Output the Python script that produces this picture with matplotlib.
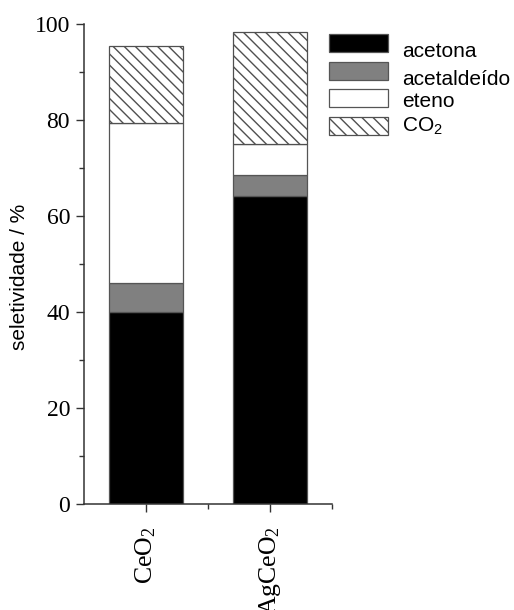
import matplotlib
matplotlib.use("Agg")
import matplotlib.pyplot as plt
import matplotlib.transforms as mtransforms
import numpy as np
from matplotlib.ticker import MultipleLocator, FixedLocator

plt.rcParams['mathtext.default'] = 'regular'
plt.rcParams['hatch.linewidth'] = 1.0
plt.rcParams['hatch.color'] = '#505050'

catalysts = ["CeO$_2$", "AgCeO$_2$"]
series_names = ["acetona", "acetaldeído", "eteno", "CO$_2$"]
acetona = [39.9, 64.2]
acetaldeido = [6.1, 4.3]
eteno = [33.3, 6.5]
co2 = [16.2, 23.3]

fig = plt.figure(figsize=(5.14, 6.10), dpi=100)
ax = fig.add_axes([84/514, 1-504/610, (332-84)/514, 480/610])

x = np.arange(1, len(catalysts)+1)
w = 0.6
edge = '#555555'
bottom = np.zeros(len(x))
styles = [
    dict(color='black', edgecolor=edge),
    dict(color='#808080', edgecolor=edge),
    dict(color='white', edgecolor=edge),
    dict(color='white', edgecolor='#505050', hatch='\\\\\\'),
]
handles = []
for vals, name, st in zip([acetona, acetaldeido, eteno, co2], series_names, styles):
    b = ax.bar(x, vals, w, bottom=bottom, linewidth=0.9, label=name, **st)
    handles.append(b)
    bottom = bottom + np.array(vals)

ax.set_xlim(0.5, 2.5)
ax.set_ylim(0, 100)
ax.spines['top'].set_visible(False)
ax.spines['right'].set_visible(False)
for s in ['left', 'bottom']:
    ax.spines[s].set_color('#333333')
    ax.spines[s].set_linewidth(1.1)

ax.yaxis.set_major_locator(MultipleLocator(20))
ax.yaxis.set_minor_locator(MultipleLocator(10))
ax.set_xticks(x)
ax.xaxis.set_minor_locator(FixedLocator([1.5, 2.5]))
ax.tick_params(axis='both', which='major', length=6, width=1.0, color='#333333')
ax.tick_params(axis='both', which='minor', length=3.5, width=1.0, color='#333333')
ax.tick_params(axis='y', which='major', pad=4)
ax.tick_params(axis='x', which='major', pad=10)

for lab in ax.get_yticklabels():
    lab.set_fontfamily('Liberation Serif')
    lab.set_fontsize(17)
ax.set_xticklabels(catalysts, rotation=90, fontfamily='Liberation Serif', fontsize=18.5, ha='center', va='top')

ax.set_ylabel("seletividade / %", fontfamily='Liberation Sans', fontsize=15)
ax.yaxis.set_label_coords(-0.22, 0.473)

leg = fig.legend(handles, series_names, loc='upper left',
                 bbox_to_anchor=(329/514, 1-34/610), bbox_transform=fig.transFigure,
                 frameon=False, prop={'family': 'Liberation Sans', 'size': 15},
                 handlelength=2.85, handleheight=0.95, handletextpad=0.65,
                 labelspacing=0.36, borderpad=0, borderaxespad=0)
for t, dy in zip(leg.get_texts(), [7, 7, 2, -1]):
    t.set_transform(t.get_transform() +
                    mtransforms.ScaledTranslation(0, -dy/100, fig.dpi_scale_trans))

fig.savefig("out.png", dpi=100)
